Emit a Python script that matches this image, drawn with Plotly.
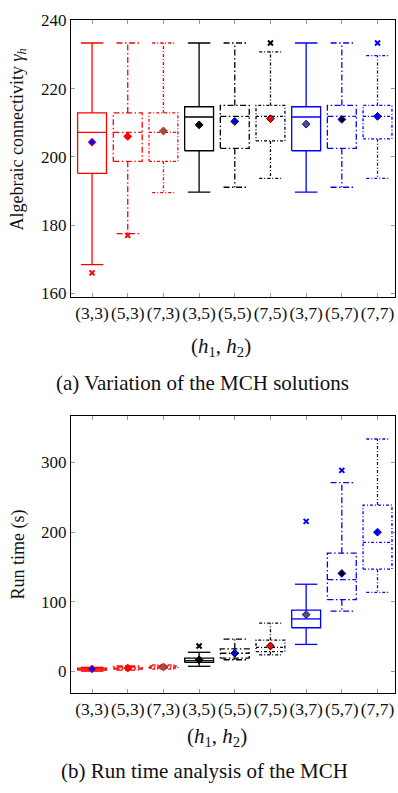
import plotly.graph_objects as go

labels = ["(3,3)", "(5,3)", "(7,3)", "(3,5)", "(5,5)", "(7,5)", "(3,7)", "(5,7)", "(7,7)"]

# (a) algebraic connectivity
upper_a = [233.4, 233.4, 233.4, 233.4, 233.4, 230.8, 233.4, 233.4, 229.7]
q3_a = [212.9, 212.9, 212.9, 214.7, 215.1, 215.1, 214.7, 215.1, 215.1]
med_a = [207.2, 207.2, 207.2, 211.7, 211.9, 211.9, 211.7, 211.9, 211.9]
q1_a = [195.2, 198.7, 198.7, 201.8, 202.5, 204.7, 201.8, 202.5, 205.3]
lower_a = [168.4, 177.5, 189.5, 189.7, 191.1, 193.7, 189.7, 191.1, 193.7]
mean_a = [204.3, 206.0, 207.6, 209.4, 210.4, 211.2, 209.6, 211.0, 211.9]
out_idx_a = [0, 1, 5, 8]
out_val_a = [166.0, 177.0, 233.4, 233.4]

# (b) run time (s)
upper_b = [6.0, 8.0, 9.5, 27.6, 46.5, 69.4, 125.3, 271.3, 333.8]
q3_b = [5.0, 6.5, 8.0, 19.2, 32.4, 45.0, 88.2, 169.9, 238.9]
med_b = [3.5, 5.0, 6.5, 15.5, 26.2, 34.7, 75.5, 131.8, 185.4]
q1_b = [2.0, 3.5, 5.0, 13.1, 19.2, 28.6, 62.8, 103.2, 146.9]
lower_b = [0.5, 2.0, 3.5, 7.5, 16.9, 23.9, 38.9, 86.8, 113.5]
mean_b = [3.7, 5.0, 6.5, 16.9, 26.2, 36.6, 81.7, 140.8, 200.0]
out_idx_b = [3, 6, 7]
out_val_b = [36.6, 215.5, 288.7]

# styles
RED, BLK, BLU = "#ff0000", "#000000", "#0000ff"
box_colors = [RED, RED, RED, BLK, BLK, BLK, BLU, BLU, BLU]
dash_styles = ["solid", "6px,2.5px,1.5px,2.5px", "3px,2px,1px,2px"] * 3
mean_fill = [BLU, RED, "#6a6a4a", BLK, BLU, RED, "#555555", BLK, BLU]
mean_edge = [RED, RED, RED, BLK, BLK, BLK, BLU, BLU, "#000099"]

BOX_W = 0.81
CAP_W = 0.63

fig = go.Figure()


def add_boxes(xa, ya, upper, q3, med, q1, lower, mean, oidx, oval):
    for i in range(len(labels)):
        h = BOX_W / 2
        c = CAP_W / 2
        xs = [i - h, i + h, i + h, i - h, i - h, None,
              i - h, i + h, None,
              i, i, None, i - c, i + c, None,
              i, i, None, i - c, i + c]
        ys = [q1[i], q1[i], q3[i], q3[i], q1[i], None,
              med[i], med[i], None,
              q3[i], upper[i], None, upper[i], upper[i], None,
              q1[i], lower[i], None, lower[i], lower[i]]
        fig.add_trace(go.Scatter(
            x=xs, y=ys, mode="lines", xaxis=xa, yaxis=ya,
            line=dict(color=box_colors[i], width=1.3, dash=dash_styles[i]),
            showlegend=False, hoverinfo="skip"))
        fig.add_trace(go.Scatter(
            x=[i], y=[mean[i]], mode="markers", xaxis=xa, yaxis=ya,
            marker=dict(symbol="diamond", size=6, color=mean_fill[i],
                        line=dict(color=mean_edge[i], width=1)),
            showlegend=False))
    fig.add_trace(go.Scatter(
        x=oidx, y=oval, mode="markers", xaxis=xa, yaxis=ya,
        marker=dict(symbol="x-thin", size=5,
                    line=dict(color=[box_colors[k] for k in oidx], width=2)),
        showlegend=False))


add_boxes("x", "y", upper_a, q3_a, med_a, q1_a, lower_a, mean_a, out_idx_a, out_val_a)
add_boxes("x2", "y2", upper_b, q3_b, med_b, q1_b, lower_b, mean_b, out_idx_b, out_val_b)

W, H = 398, 793
X0, X1 = 71, 395
FONT = "Liberation Serif"

common_x = dict(
    tickmode="array", tickvals=list(range(len(labels))), ticktext=labels,
    tickangle=0,
    range=[-0.59, 8.49], showline=True, linecolor="black", linewidth=1,
    mirror="ticks", ticks="inside", ticklen=4, tickcolor="#999999",
    showgrid=False, zeroline=False,
    tickfont=dict(family=FONT, size=17.5, color="#111111"),
    domain=[X0 / W, X1 / W])
common_y = dict(
    showline=True, linecolor="black", linewidth=1, mirror="ticks",
    ticks="inside", ticklen=4, tickcolor="#999999", showgrid=False,
    zeroline=False, tickfont=dict(family=FONT, size=17, color="#111111"))

fig.update_layout(
    width=W, height=H, margin=dict(l=0, r=0, t=0, b=0),
    paper_bgcolor="white", plot_bgcolor="white",
    font=dict(family=FONT),
    xaxis=dict(common_x, anchor="y"),
    yaxis=dict(common_y, range=[159, 240], tickvals=[160, 180, 200, 220, 240],
               domain=[1 - 293.3 / H, 1 - 11.7 / H], anchor="x"),
    xaxis2=dict(common_x, anchor="y2"),
    yaxis2=dict(common_y, range=[-31, 367], tickvals=[0, 100, 200, 300],
                domain=[1 - 697.3 / H, 1 - 414.7 / H], anchor="x2"),
)

def ann(text, x, y, size, angle=0):
    fig.add_annotation(text=text, x=x / W, y=1 - y / H, xref="paper", yref="paper",
                       showarrow=False, textangle=angle, xanchor="center", yanchor="middle",
                       font=dict(family=FONT, size=size, color="#111111"))

ann("Algebraic connectivity <i>γ<sub>h</sub></i>", 18, 133, 18, -90)
ann("Run time (s)", 18, 556, 18, -90)
ann("(<i>h</i><sub>1</sub>, <i>h</i><sub>2</sub>)", 221, 345, 21)
ann("(<i>h</i><sub>1</sub>, <i>h</i><sub>2</sub>)", 217, 742, 21)
ann("(a) Variation of the MCH solutions", 202, 381, 21)
ann("(b) Run time analysis of the MCH", 204, 777, 21)

fig.write_html("out.html")
